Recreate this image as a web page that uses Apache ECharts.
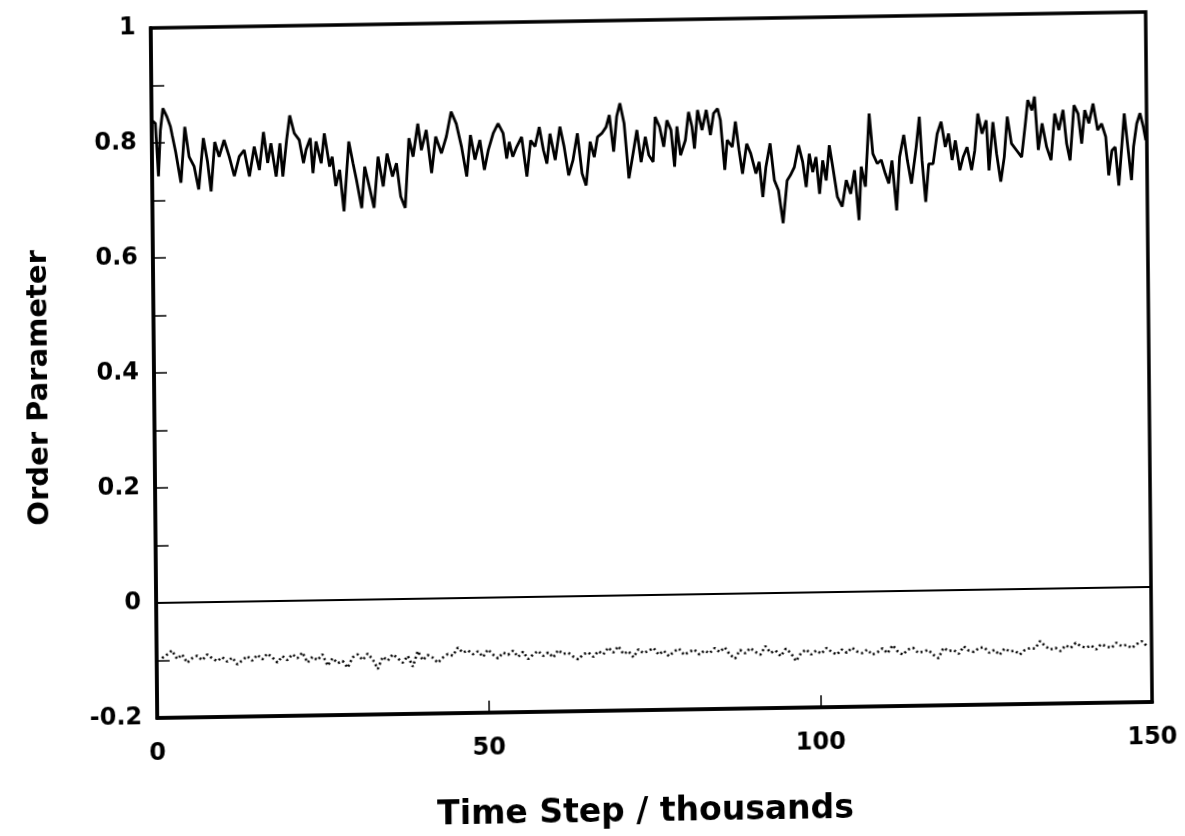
<!DOCTYPE html>
<html>
<head>
<meta charset="utf-8">
<script src="https://cdn.jsdelivr.net/npm/echarts@6/dist/echarts.min.js"></script>
<style>
html, body { margin: 0; padding: 0; background: #fff; overflow: hidden; }
/* the scanned figure sits slightly skewed, so the whole chart is skewed the same way */
#order-chart {
  width: 1185px;
  height: 836px;
  transform-origin: 651px 365px;
  transform: matrix(1, -0.0161, 0.0094, 1, 0, 0);
}
</style>
</head>
<body>
<div id="order-chart"></div>
<script>
// upper trace: time step (thousands) / order parameter
const orderTime = [
  0, 0.56, 0.96, 1.31, 1.72, 2.32, 2.83, 3.08, 3.58, 4.34, 4.99, 5.6, 6.35, 7.01, 7.77, 8.37, 8.87, 9.48,
  10.13, 10.89, 11.65, 12.4, 13.16, 13.91, 14.67, 15.43, 16.18, 16.84, 17.44, 17.95, 18.7, 19.31, 19.71,
  20.32, 20.82, 21.48, 22.23, 22.84, 23.24, 23.89, 24.25, 24.75, 25.51, 26.01, 26.77, 27.17, 27.68, 28.28,
  28.88, 29.69, 30.3, 30.8, 31.56, 32.06, 32.82, 33.42, 34.08, 34.83, 35.44, 36.24, 36.85, 37.45, 38.11,
  38.76, 39.37, 40.12, 40.63, 41.38, 42.14, 42.8, 43.65, 44.41, 45.16, 45.92, 46.68, 47.43, 48.04, 48.69,
  49.45, 50.1, 50.71, 51.47, 52.22,
  52.47, 52.97, 53.48, 53.88, 54.39, 54.99, 55.75, 56.5, 57.11, 57.76, 58.42, 59.02, 59.53, 60.03, 60.79,
  61.54, 62.15, 62.8, 63.46, 64.16, 64.82, 65.42, 66.08, 66.68, 67.19, 67.84, 68.5, 69.0, 69.61, 70.11,
  70.61, 71.22, 71.88, 72.53, 73.14, 73.74, 74.4, 74.9, 75.55, 75.91, 76.56, 77.17, 77.67, 78.28, 78.78,
  79.18, 79.69, 80.44, 80.95, 81.45, 81.8, 82.31, 82.96, 83.62, 84.22, 84.73, 85.33, 85.74, 86.34, 86.74,
  87.5, 88.0, 88.51, 89.01, 89.67, 90.27, 91.03, 91.53, 92.04, 92.54, 93.2, 93.8, 94.41, 95.06, 95.72,
  96.22, 96.83, 97.48, 98.09, 98.59, 99.09, 99.6, 100.1, 100.6, 101.11, 101.61, 102.12, 102.62, 103.28,
  103.98, 104.64, 105.29,
  105.9, 106.51, 106.91, 107.52, 108.17, 108.68, 109.33, 109.94, 110.54, 111.05, 111.55, 112.2, 112.71,
  113.36, 113.87, 114.47, 115.23, 115.73, 116.09, 116.59, 117.09, 117.75, 118.4, 119.01, 119.61, 120.12,
  120.62, 121.13, 121.78, 122.29, 122.89, 123.55, 124.05, 124.55, 125.16, 125.81, 126.17, 126.82, 127.33,
  127.93, 128.49, 128.99, 129.59, 130.35, 131.11, 131.71, 132.11, 132.72, 133.12, 133.63, 134.23, 134.89,
  135.54, 136.15, 136.75, 137.41, 137.91, 138.41, 139.07, 139.67, 140.18, 140.68, 141.29, 141.94, 142.6,
  143.2, 143.81, 144.21, 144.72, 145.22, 145.72, 146.23, 146.63, 147.13, 147.64, 147.99, 148.5, 149.0,
  149.5, 149.85
];
const orderValues = [
  0.840, 0.834, 0.742, 0.822, 0.860, 0.845, 0.828, 0.813, 0.784, 0.730, 0.827, 0.775, 0.758, 0.718, 0.807,
  0.766, 0.714, 0.800, 0.774, 0.803, 0.774, 0.740, 0.774, 0.785, 0.739, 0.791, 0.750, 0.816, 0.762, 0.796,
  0.738, 0.796, 0.738, 0.801, 0.844, 0.813, 0.801, 0.761, 0.784, 0.804, 0.743, 0.798, 0.760, 0.812, 0.754,
  0.771, 0.720, 0.748, 0.676, 0.797, 0.759, 0.730, 0.681, 0.753, 0.713, 0.681, 0.770, 0.718, 0.775, 0.735,
  0.758, 0.700, 0.680, 0.801, 0.769, 0.826, 0.780, 0.815, 0.740, 0.803, 0.774, 0.803, 0.846, 0.825, 0.785,
  0.733, 0.805, 0.762, 0.796, 0.744, 0.778, 0.807, 0.824,
  0.827, 0.807, 0.763, 0.792, 0.766, 0.783, 0.800, 0.731, 0.794, 0.783, 0.817, 0.777, 0.753, 0.805, 0.759,
  0.817, 0.782, 0.732, 0.758, 0.805, 0.735, 0.714, 0.790, 0.763, 0.798, 0.804, 0.815, 0.836, 0.772, 0.833,
  0.856, 0.821, 0.725, 0.768, 0.809, 0.753, 0.797, 0.765, 0.753, 0.831, 0.814, 0.779, 0.825, 0.808, 0.744,
  0.814, 0.764, 0.790, 0.839, 0.813, 0.775, 0.842, 0.807, 0.842, 0.798, 0.836, 0.844, 0.824, 0.737, 0.789,
  0.777, 0.821, 0.771, 0.730, 0.782, 0.765, 0.730, 0.750, 0.689, 0.741, 0.782, 0.718, 0.700, 0.643, 0.717,
  0.726, 0.740, 0.778, 0.749, 0.705, 0.763, 0.731, 0.757, 0.693, 0.751, 0.716, 0.777, 0.739, 0.687,
  0.670, 0.716, 0.692,
  0.733, 0.646, 0.739, 0.704, 0.831, 0.761, 0.744, 0.750, 0.726, 0.709, 0.749, 0.662, 0.755,
  0.793, 0.749, 0.708, 0.772, 0.824, 0.748, 0.676, 0.742, 0.742, 0.794, 0.815, 0.771, 0.794,
  0.748, 0.782, 0.730, 0.753, 0.770, 0.730, 0.764, 0.828, 0.793, 0.816, 0.729, 0.813, 0.758,
  0.709, 0.752, 0.822, 0.775, 0.763, 0.751, 0.809, 0.850, 0.832, 0.856, 0.763, 0.809, 0.768,
  0.745, 0.826, 0.797, 0.832, 0.773, 0.744, 0.840, 0.825, 0.773, 0.831, 0.808, 0.842, 0.796,
  0.807, 0.784, 0.717, 0.760, 0.766, 0.699, 0.769, 0.824, 0.766, 0.708, 0.766, 0.806, 0.824,
  0.800, 0.777
];

// lower dotted trace
const lowTime = [
  0.81, 1.57, 2.32, 3.08, 3.83, 4.59, 5.35, 6.1, 6.86, 7.61, 8.37, 9.13, 9.88, 10.64, 11.4, 12.15, 12.91,
  13.66, 14.42, 15.18, 15.93, 16.69, 17.44, 18.2, 18.96, 19.71, 20.47, 21.22, 21.98, 22.74, 23.49, 24.25,
  25.0, 25.76, 26.52, 27.27, 28.03, 28.78, 29.54, 30.3, 31.05, 31.81, 32.56, 33.32, 34.08, 34.83, 35.59,
  36.34, 37.1, 37.86, 38.61, 39.37, 40.12, 40.88, 41.64, 42.39, 43.15, 43.9, 44.66, 45.42, 46.17, 46.93,
  47.68, 48.44, 49.2, 49.95, 50.71, 51.46, 52.22, 52.98, 53.73, 54.49, 55.25, 56.0, 56.76, 57.51, 58.27,
  59.03, 59.78, 60.54, 61.29, 62.05, 62.81, 63.56, 64.32, 65.07, 65.83, 66.59, 67.34, 68.1, 68.85, 69.61,
  70.37, 71.12, 71.88, 72.63, 73.39, 74.15,
  74.92, 75.68, 76.45, 77.22, 77.99, 78.75, 79.52, 80.29, 81.05, 81.82, 82.59, 83.35, 84.12, 84.89, 85.65,
  86.42, 87.19, 87.96, 88.72, 89.49, 90.26, 91.02, 91.79, 92.56, 93.32, 94.09, 94.86, 95.62, 96.39, 97.16,
  97.92, 98.69, 99.46, 100.22, 100.99, 101.76, 102.53, 103.29, 104.06, 104.83, 105.59, 106.36, 107.13,
  107.89, 108.66, 109.43, 110.19, 110.96, 111.73, 112.49, 113.26, 114.03, 114.8, 115.56, 116.33, 117.1,
  117.86, 118.63, 119.4, 120.16, 120.93, 121.7, 122.46, 123.23, 124.0, 124.76, 125.53, 126.3, 127.06,
  127.83, 128.6, 129.37, 130.13, 130.9, 131.67, 132.43, 133.2, 133.97, 134.73, 135.5, 136.27, 137.03,
  137.8, 138.57, 139.33, 140.1, 140.87, 141.64, 142.4, 143.17, 143.94, 144.7, 145.47, 146.24, 147.0,
  147.77, 148.54, 149.3
];
const lowValues = [
  -0.096, -0.090, -0.083, -0.098, -0.090, -0.105, -0.097, -0.093, -0.101, -0.091, -0.098, -0.103, -0.096,
  -0.104, -0.097, -0.109, -0.102, -0.095, -0.103, -0.093, -0.101, -0.091, -0.098, -0.107, -0.096, -0.103,
  -0.093, -0.100, -0.090, -0.108, -0.098, -0.104, -0.094, -0.114, -0.101, -0.110, -0.106, -0.118, -0.100,
  -0.095, -0.105, -0.094, -0.104, -0.121, -0.100, -0.107, -0.096, -0.103, -0.111, -0.099, -0.118, -0.091,
  -0.107, -0.098, -0.103, -0.112, -0.103, -0.097, -0.100, -0.086, -0.095, -0.091, -0.098, -0.093, -0.103,
  -0.090, -0.099, -0.106, -0.096, -0.100, -0.093, -0.104, -0.095, -0.108, -0.100, -0.094, -0.103, -0.097,
  -0.106, -0.093, -0.100, -0.098, -0.105, -0.110, -0.101, -0.098, -0.106, -0.096, -0.102, -0.090, -0.099,
  -0.088, -0.102, -0.097, -0.108, -0.094, -0.101, -0.097,
  -0.092, -0.104, -0.097, -0.107, -0.099, -0.094, -0.105, -0.100, -0.096, -0.105, -0.098, -0.103, -0.094,
  -0.101, -0.093, -0.106, -0.113, -0.098, -0.104, -0.095, -0.102, -0.107, -0.092, -0.104, -0.100, -0.110,
  -0.097, -0.105, -0.119, -0.105, -0.099, -0.108, -0.101, -0.107, -0.097, -0.104, -0.109, -0.100, -0.106,
  -0.097, -0.104, -0.107, -0.101, -0.110, -0.106, -0.099, -0.108, -0.094, -0.105, -0.111, -0.102, -0.099,
  -0.108, -0.106, -0.103, -0.112, -0.118, -0.100, -0.106, -0.104, -0.111, -0.098, -0.106, -0.108, -0.101,
  -0.100, -0.110, -0.105, -0.114, -0.103, -0.108, -0.107, -0.114, -0.106, -0.103, -0.104, -0.091, -0.100,
  -0.106, -0.103, -0.109, -0.099, -0.104, -0.095, -0.101, -0.104, -0.100, -0.107, -0.098, -0.102, -0.105,
  -0.096, -0.102, -0.100, -0.106, -0.099, -0.094, -0.103
];

const xTicks = [0, 150, 50];      // min, max, step
const yTicks = [-0.2, 1, 0.2];

const black = '#000';
const labelFont = {
  fontFamily: 'DejaVu Sans',
  fontWeight: 'bold',
  color: black,
};

const orderChart = echarts.init(document.getElementById('order-chart'), null, { renderer: 'canvas' });
orderChart.setOption({
  animation: false,
  backgroundColor: '#fff',
  grid: {
    left: 154,
    top: 20,
    width: 995,
    height: 690,
    show: true,
    borderColor: black,
    borderWidth: 3.5,
    outerBoundsMode: 'none',
    containLabel: false,
  },
  xAxis: {
    type: 'value',
    min: xTicks[0],
    max: xTicks[1],
    interval: xTicks[2],
    name: 'Time Step / thousands',
    nameLocation: 'middle',
    nameGap: 86,
    nameTextStyle: { ...labelFont, fontSize: 33, padding: [0, 20, 0, 0] },
    axisLine: { show: true, onZero: false, lineStyle: { color: black, width: 3.5 } },
    axisTick: { show: true, inside: true, length: 12, lineStyle: { color: black, width: 1.5 } },
    axisLabel: { ...labelFont, fontSize: 24, margin: 24 },
    splitLine: { show: false },
  },
  yAxis: {
    type: 'value',
    min: yTicks[0],
    max: yTicks[1],
    interval: yTicks[2],
    name: 'Order Parameter',
    nameLocation: 'middle',
    nameRotate: 90,
    nameGap: 100,
    nameTextStyle: { ...labelFont, fontSize: 29, padding: [0, 26, 0, 0] },
    axisLine: { show: true, onZero: false, lineStyle: { color: black, width: 3.5 } },
    axisTick: { show: true, inside: true, length: 13, lineStyle: { color: black, width: 1.5 } },
    minorTick: { show: true, splitNumber: 2, length: 13, lineStyle: { color: black, width: 1.5 } },
    axisLabel: { ...labelFont, fontSize: 24, margin: 15 },
    splitLine: { show: false },
  },
  series: [
    {
      type: 'line',
      data: orderTime.map((t, i) => [t, orderValues[i]]),
      showSymbol: false,
      lineStyle: { color: black, width: 2.8 },
      markLine: {
        silent: true,
        symbol: 'none',
        label: { show: false },
        lineStyle: { color: black, width: 2, type: 'solid' },
        data: [{ yAxis: 0 }],
      },
    },
    {
      type: 'line',
      data: lowTime.map((t, i) => [t, lowValues[i]]),
      showSymbol: false,
      lineStyle: { color: black, width: 2.5, type: [2, 3] },
    },
  ],
});
</script>
</body>
</html>
